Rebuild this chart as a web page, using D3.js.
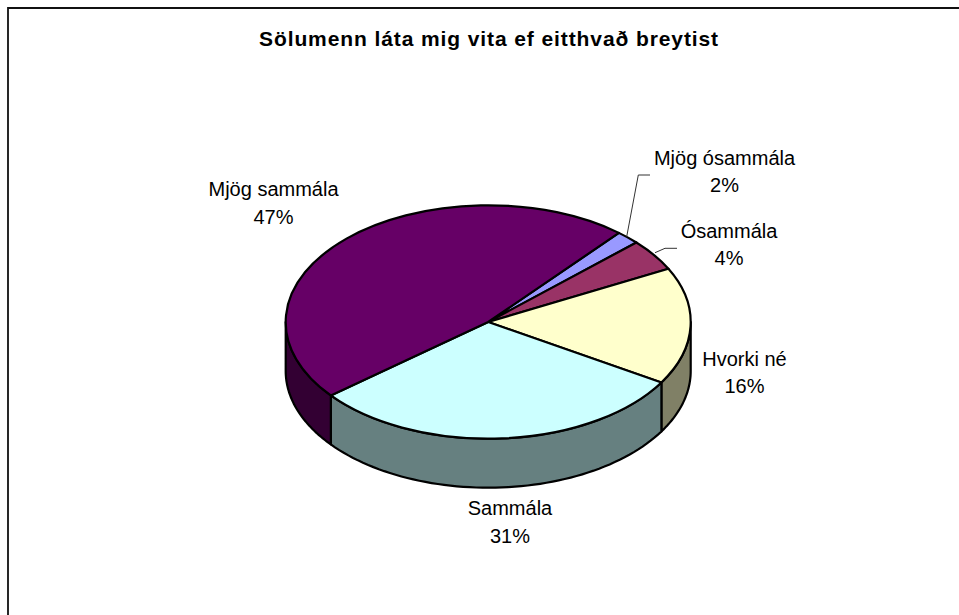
<!DOCTYPE html>
<html><head><meta charset="utf-8">
<script src="https://cdn.jsdelivr.net/npm/d3@7"></script>
<style>html,body{margin:0;padding:0;background:#fff}svg{display:block}
text{font-family:"Liberation Sans",Arial,sans-serif;fill:#000}</style></head>
<body><svg id="c" width="959" height="615"></svg>
<script>
const categories=["Mjög ósammála","Ósammála","Hvorki né","Sammála","Mjög sammála"];
const values=[1.9,4.4,16.2,30.5,47.0];
const percentLabels=["2%","4%","16%","31%","47%"];
const topColors=["#9999FF","#993366","#FFFFCC","#CCFFFF","#660066"];
const sideColors=["#4C4C80","#4C1933","#808066","#668080","#330033"];
const titleText="Sölumenn láta mig vita ef eitthvað breytist";

const W=959,H=615,cx=488.2,cy=322,rx=202.5,ry=116.7,depth=49;
const svg=d3.select("#c");
svg.append("path").attr("d",`M8,${H}V8H${W}`).attr("fill","none").attr("stroke","#111").attr("stroke-width",1.8);
svg.append("text").attr("x",489).attr("y",46).attr("text-anchor","middle")
  .attr("font-size",21).attr("font-weight","bold").attr("letter-spacing",0.9).text(titleText);

const rad=d3.scaleLinear().domain([0,360]).range([0,2*Math.PI]);
const pie=d3.pie().sort(null).startAngle(rad(40.2)).endAngle(rad(400.2));
const arcs=pie(values);
const pt=(a,dy=0)=>[cx+rx*Math.sin(a),cy-ry*Math.cos(a)+dy];
const line=d3.line();
const FRONT0=Math.PI/2,FRONT1=3*Math.PI/2;
arcs.forEach((d,i)=>{
  const a0=Math.max(d.startAngle,FRONT0),a1=Math.min(d.endAngle,FRONT1);
  if(a1<=a0)return;
  const as=d3.range(0,61).map(k=>a0+(a1-a0)*k/60);
  const pts=as.map(a=>pt(a)).concat(as.slice().reverse().map(a=>pt(a,depth)));
  svg.append("path").attr("d",line(pts)+"Z").attr("fill",sideColors[i]).attr("stroke","#000").attr("stroke-width",2.2).attr("stroke-linejoin","round");
});
const arc=d3.arc().innerRadius(0).outerRadius(rx);
const g=svg.append("g").attr("transform",`translate(${cx},${cy}) scale(1,${ry/rx})`);
g.selectAll("path").data(arcs).join("path").attr("d",arc)
  .attr("fill",(d,i)=>topColors[i]).attr("stroke","#000").attr("stroke-width",2.2)
  .attr("stroke-linejoin","round").style("vector-effect","non-scaling-stroke");
const leaders=[[0,[[626.7,236.7],[638.3,175],[650,175]]],[1,[[655,252.7],[665,248.3],[677,248.3]]]];
leaders.forEach(([i,p])=>svg.append("path").attr("d",line(p)).attr("fill","none").attr("stroke","#333").attr("stroke-width",1));
const labelPos=[[724.5,165,192],[729,238,265],[744.5,366,393],[510,515,543],[273.5,196,224]];
categories.forEach((c,i)=>{
  const [x,y1,y2]=labelPos[i];
  svg.append("text").attr("x",x).attr("y",y1).attr("text-anchor","middle").attr("font-size",20).text(c);
  svg.append("text").attr("x",x).attr("y",y2).attr("text-anchor","middle").attr("font-size",20).text(percentLabels[i]);
});
</script></body></html>
